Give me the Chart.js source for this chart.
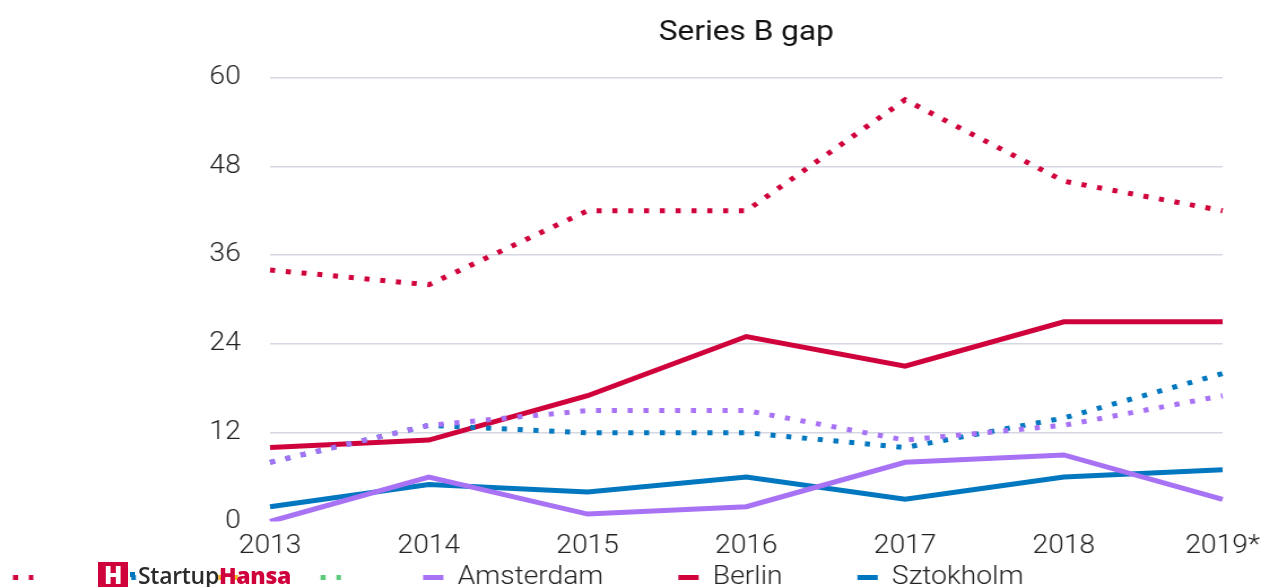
<!DOCTYPE html>
<html>
<head>
<meta charset="utf-8">
<script src="https://cdn.jsdelivr.net/npm/chart.js@4"></script>
<style>
  html, body { margin: 0; padding: 0; background: #fff; overflow: hidden; }
  .wrap { position: relative; width: 1261px; height: 619px; }
  #grafico { display: block; }
  .logo { position: absolute; left: 98px; top: 562px; height: 25px; display: flex; align-items: center; font-family: "Open Sans", sans-serif; font-size: 23px; font-weight: 600; letter-spacing: -0.3px; }
  .logo .icon { width: 30px; height: 25px; background: #d0023c; color: #fff; font-weight: 800; font-size: 24px; line-height: 25px; text-align: center; }
  .logo .dot { width: 5px; height: 5px; background: #0077bf; margin: 0 3px 0 2px; }
  .logo .startup { color: #2b2b2b; }
  .logo .hansa { color: #d0023c; font-weight: 800; }
</style>
</head>
<body>
<div class="wrap">
  <canvas id="grafico" width="1116" height="619" style="width:1261px;height:619px"></canvas>
  <div class="logo"><span class="icon">H</span><span class="dot"></span><span class="startup">Startup</span><span class="hansa">Hansa</span></div>
</div>
<script>
const ctx = document.getElementById('grafico').getContext('2d');

// Lata i wartości
const lata = ['2013', '2014', '2015', '2016', '2017', '2018', '2019*'];
const amsterdamKropki = [8, 13, 15, 15, 11, 13, 17];
const berlinKropki = [34, 32, 42, 42, 57, 46, 42];
const sztokholmKropki = [8, 13, 12, 12, 10, 14, 20];
const amsterdam = [0, 6, 1, 2, 8, 9, 3];
const berlin = [10, 11, 17, 25, 21, 27, 27];
const sztokholm = [2, 5, 4, 6, 3, 6, 7];

const czerwony = '#d0023c';
const niebieski = '#0077bf';
const fioletowy = '#a872f5';
const zolty = '#f7b731';
const zielony = '#5cc97d';
const kropki = [4.5, 9.5];

const linia = (label, data, color, dash) => ({
  label, data,
  borderColor: color,
  backgroundColor: color,
  borderWidth: 5,
  borderDash: dash,
  pointRadius: 0,
  tension: 0,
  fill: false
});

const fontLight = { family: 'Roboto', size: 25, weight: '300' };

// legenda zachodzi trochę na etykiety osi X, jak w oryginale
const podniesLegende = {
  id: 'podniesLegende',
  afterLayout(chart) {
    chart.legend.top -= 19;
    chart.legend.bottom -= 19;
  }
};

new Chart(ctx, {
  type: 'line',
  data: {
    labels: lata,
    datasets: [
      linia('', amsterdamKropki, fioletowy, kropki),
      linia('', berlinKropki, czerwony, kropki),
      linia('', sztokholmKropki, niebieski, kropki),
      linia('', [], zolty, kropki),
      linia('', [], zielony, kropki),
      linia('Amsterdam', amsterdam, fioletowy, []),
      linia('Berlin', berlin, czerwony, []),
      linia('Sztokholm', sztokholm, niebieski, [])
    ]
  },
  plugins: [podniesLegende],
  options: {
    responsive: false,
    animation: false,
    layout: { padding: { left: 0, right: 34, top: 0, bottom: 0 } },
    plugins: {
      title: {
        display: true,
        text: 'Series B gap',
        fullSize: false,
        color: '#111',
        font: { family: 'Roboto', size: 28, weight: '400' },
        padding: { top: 16, bottom: 28 }
      },
      tooltip: { enabled: false },
      legend: {
        position: 'bottom',
        align: 'start',
        labels: {
          color: '#222',
          font: fontLight,
          padding: 11.5,
          usePointStyle: true,
          pointStyleWidth: 18,
          boxHeight: 5,
          generateLabels: chart => chart.data.datasets.map((ds, i) => ({
            text: ds.label + ' '.repeat(ds.label ? 9 : 8),
            fillStyle: ds.borderColor,
            strokeStyle: ds.borderColor,
            lineWidth: 5,
            lineDash: ds.borderDash,
            lineCap: 'butt',
            pointStyle: 'line',
            fontColor: '#222',
            hidden: false,
            datasetIndex: i
          })),
          filter: item => item.datasetIndex !== 0
        }
      }
    },
    scales: {
      x: {
        grid: { display: false, drawTicks: false },
        border: { display: false },
        ticks: { color: '#222', font: { ...fontLight, lineHeight: 1 }, padding: 13, maxRotation: 0 },
        afterFit: scale => { scale.paddingLeft = 0; scale.paddingRight = 34; }
      },
      y: {
        min: 0,
        max: 60,
        grid: {
          color: c => c.tick.value === 0 ? 'rgba(0,0,0,0)' : '#d5d8e3',
          lineWidth: 1.5,
          drawTicks: false
        },
        border: { display: false },
        ticks: { stepSize: 12, color: '#222', font: fontLight, padding: 26 },
        afterFit: scale => { scale.width = 239; }
      }
    }
  }
});
</script>
</body>
</html>
